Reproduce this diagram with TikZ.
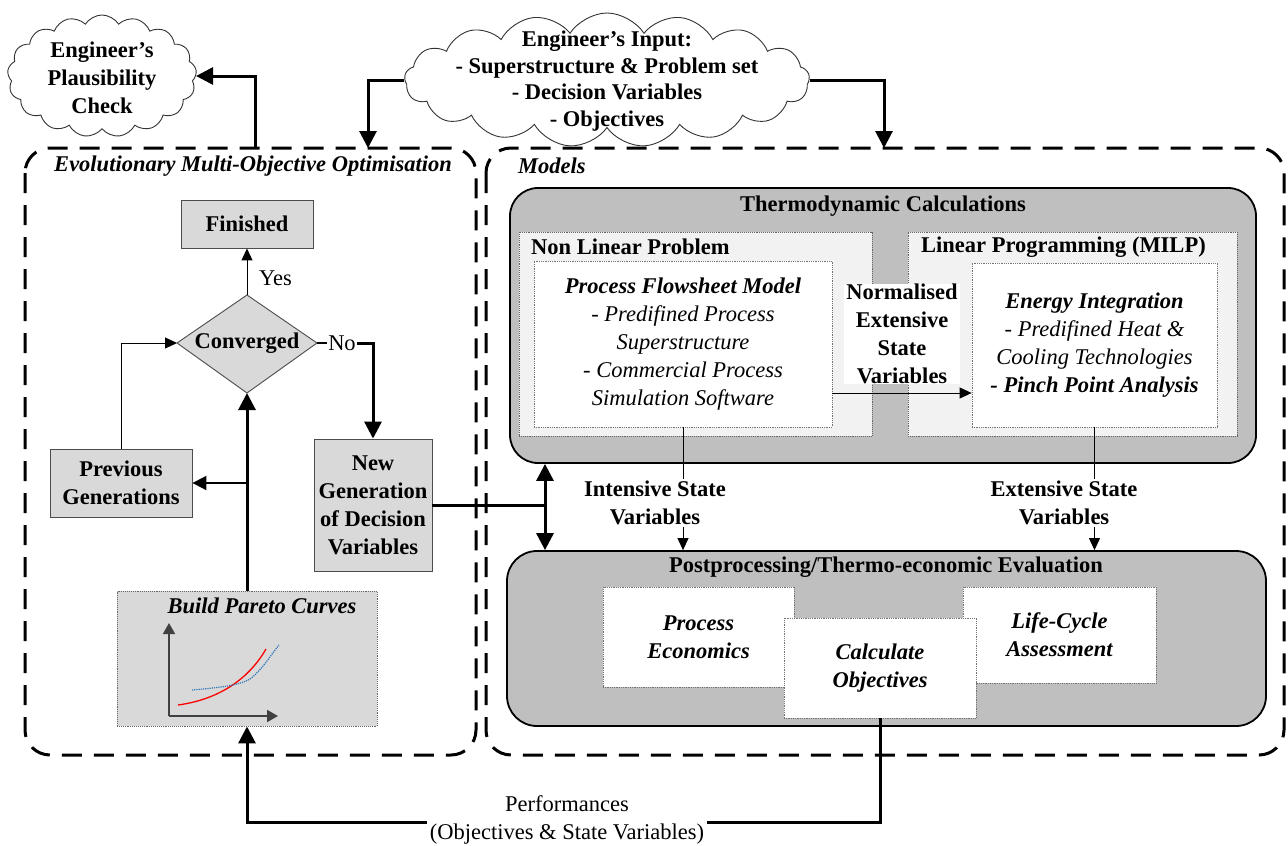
\documentclass[tikz,border=0pt]{standalone}
\usepackage{fontspec}
\setmainfont{Liberation Serif}
\usetikzlibrary{shapes.symbols,shapes.geometric,arrows.meta}
\definecolor{boxgray}{HTML}{D9D9D9}
\definecolor{midgray}{HTML}{BFBFBF}
\definecolor{panelgray}{HTML}{F2F2F2}
\definecolor{curveblue}{HTML}{2E75B6}
\begin{document}
\begin{tikzpicture}[x=1pt,y=-1pt,
  every node/.style={font=\fontsize{22.5}{28}\selectfont, inner sep=0pt},
  bf/.style={font=\fontsize{22.5}{28}\selectfont\bfseries},
  bfit/.style={font=\fontsize{22.5}{28}\selectfont\bfseries\itshape},
  cloudsty/.style={cloud, cloud puffs=17, cloud puff arc=115, cloud ignores aspect, draw=black!80, line width=0.9pt, fill=white, inner sep=0pt},
  graybox/.style={draw=black!70, line width=0.9pt, fill=boxgray, align=center, font=\fontsize{22.5}{28}\selectfont\bfseries},
  bigbox/.style={draw=black, line width=1.8pt, fill=midgray, rounded corners=28pt},
  panel/.style={draw=black!60, densely dotted, line width=0.9pt, fill=panelgray},
  whitebox/.style={draw=black!55, densely dotted, line width=0.8pt, fill=white, align=center},
  dashbox/.style={draw=black, line width=3pt, dash pattern=on 20pt off 12pt, rounded corners=25pt},
  thickarrow/.style={line width=3pt, -{Triangle[length=17pt,width=17pt]}},
  thinarrow/.style={line width=1pt, -{Triangle[length=12pt,width=11pt]}},
  medarrow/.style={line width=2pt, -{Triangle[length=14pt,width=14pt]}},
  lbl/.style={align=center, fill=white, inner sep=2pt, font=\fontsize{22.5}{28}\selectfont\bfseries},
]
\path[use as bounding box] (0,0) rectangle (1288,846);

% dashed frames
\draw[dashbox] (25,148) rectangle (476,755);
\draw[dashbox] (486,148) rectangle (1284,755);
\node[bfit] (evoT) at (253,166) {Evolutionary Multi-Objective Optimisation};
\node[bfit, anchor=west] (modT) at (518,166) {Models};

% clouds
\node[cloudsty, minimum width=189pt, minimum height=122pt] (plaus) at (102,76) {};
\node[bf, align=center] (plausT) at (102,78) {Engineer’s\\Plausibility\\Check};
\node[cloudsty, minimum width=405pt, minimum height=134pt] (inp) at (607,80) {};
\node[font=\fontsize{22.5}{26.5}\selectfont\bfseries, align=center] (inpT) at (607,81) {Engineer’s Input:\\- Superstructure \& Problem set\\- Decision Variables\\- Objectives};

\coordinate (lt) at (255,148);
\coordinate (lb) at (368,148);
\coordinate (rb) at (884,148);
\draw[thickarrow] (lt) |- (plaus.east);
\draw[thickarrow] (inp.west) -| (lb);
\draw[thickarrow] (inp.east) -| (rb);

% left flow
\node[graybox, minimum width=132pt, minimum height=48pt] (fin) at (247,224) {Finished};
\coordinate (dT) at (247,295);
\coordinate (dB) at (247,393);
\coordinate (dL) at (177,343);
\coordinate (dR) at (317,343);
\draw[draw=black!70, line width=0.9pt, fill=boxgray] (dL) -- (dT) -- (dR) -- (dB) -- cycle;
\node[bf] (conv) at (247,343) {Converged};
\node[graybox, minimum width=142pt, minimum height=68pt] (prev) at (121,483) {Previous\\Generations};
\node[graybox, minimum width=118pt, minimum height=132pt] (ng) at (373,505) {New\\Generation\\of Decision\\Variables};

\node[draw=black!60, densely dotted, line width=0.9pt, fill=boxgray, minimum width=260pt, minimum height=135pt] (par) at (247,658.5) {};
\node[bfit] (parT) at (262,606) {Build Pareto Curves};
\coordinate (o) at (169,716);
\draw[line width=1.8pt, draw=black!75, -{Triangle[length=11pt,width=12pt]}] (o) -- (169,623);
\draw[line width=1.8pt, draw=black!75, -{Triangle[length=11pt,width=12pt]}] (o) -- (278,716);
\draw[red, line width=1.3pt] (178,705) .. controls (215,700) and (247,682) .. (266,649);
\draw[curveblue, densely dotted, line width=1.2pt] (192,690) .. controls (215,688) and (238,686) .. (250,679) .. controls (262,670) and (270,656) .. (279,645);

\draw[thinarrow] (dT) -- (fin.south);
\node[anchor=west] (yes) at (259,278) {Yes};
\node[fill=white, inner sep=1pt] (no) at (342,343) {No};
\draw[line width=2pt] (dR) -- (no.west);
\draw[thickarrow] (no.east) -| (ng.north);
\draw[thinarrow] (prev.north) |- (dL);
\draw[thickarrow] (par.north) -- (dB);
\draw[medarrow] (par.north |- prev.east) -- (prev.east);

% models
\node[bigbox, minimum width=746pt, minimum height=275pt] (thermo) at (883,325.5) {};
\node[bf] (thermoT) at (883,206) {Thermodynamic Calculations};
\node[panel, minimum width=353pt, minimum height=204pt] (nlp) at (695.5,334) {};
\node[bf, anchor=west] (nlpT) at (531,247) {Non Linear Problem};
\node[panel, minimum width=329pt, minimum height=204pt] (lp) at (1072.5,334) {};
\node[bf, anchor=west] (lpT) at (921,247) {Linear Programming (MILP)};
\node[whitebox, minimum width=298pt, minimum height=166pt] (pfm) at (683,344)
  {\textbf{\textit{Process Flowsheet Model}}\\\textit{- Predifined Process}\\\textit{Superstructure}\\\textit{- Commercial Process}\\\textit{Simulation Software}};
\node[whitebox, minimum width=245pt, minimum height=164pt] (ei) at (1094.5,345)
  {\textbf{\textit{Energy Integration}}\\\textit{- Predifined Heat \&}\\\textit{Cooling Technologies}\\\textbf{\textit{- Pinch Point Analysis}}};
\node[lbl, inner xsep=2pt, inner ysep=0pt] (norm) at (902,334) {Normalised\\Extensive\\State\\Variables};
\draw[thinarrow] (pfm.east |- 0,393) -- (ei.west |- 0,393);

\node[bigbox, rounded corners=30pt, minimum width=759pt, minimum height=175pt] (post) at (886.5,638.5) {};
\node[bf] (postT) at (886,567) {Postprocessing/Thermo-economic Evaluation};
\node[whitebox, minimum width=191pt, minimum height=100pt, font=\fontsize{22.5}{28}\selectfont\bfseries\itshape] (pe) at (698.5,637) {Process\\Economics};
\node[whitebox, minimum width=193pt, minimum height=96pt, font=\fontsize{22.5}{28}\selectfont\bfseries\itshape] (lca) at (1059.5,635) {Life-Cycle\\Assessment};
\node[whitebox, minimum width=192pt, minimum height=100pt, font=\fontsize{22.5}{28}\selectfont\bfseries\itshape] (calc) at (880,668) {Calculate\\Objectives};

\draw[thinarrow] (pfm.south) -- (pfm.south |- post.north);
\node[lbl] (intl) at (655,503) {Intensive State\\Variables};
\draw[thinarrow] (ei.south) -- (ei.south |- post.north);
\node[lbl] (extl) at (1064,503) {Extensive State\\Variables};

\coordinate (j) at (545,505);
\draw[line width=3pt] (ng.east) -- (j);
\draw[line width=3pt, {Triangle[length=17pt,width=17pt]}-{Triangle[length=17pt,width=17pt]}] (j |- thermo.south) -- (j |- post.north);

% performances
\draw[thickarrow] (calc.south) -- (calc.south |- 0,822) -| (par.south);
\node[fill=white, inner xsep=3pt, inner ysep=0pt, align=center] (perf) at (567,820) {Performances\\(Objectives \& State Variables)};
\end{tikzpicture}
\end{document}
